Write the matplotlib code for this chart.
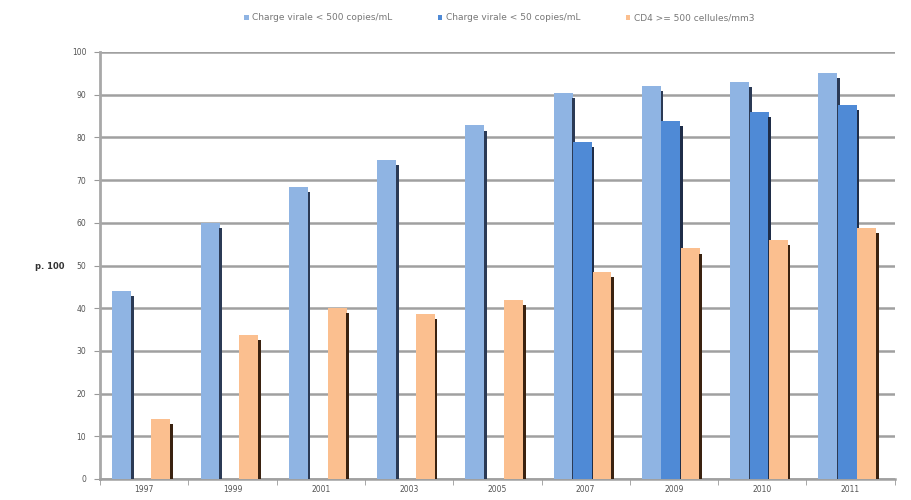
import numpy as np
import matplotlib.pyplot as plt

years = ['1997', '1999', '2001', '2003', '2005', '2007', '2009', '2010', '2011']
cv500 = [44, 60, 68.5, 74.8, 82.8, 90.5, 92, 93, 95]
cv50 = [np.nan, np.nan, np.nan, np.nan, np.nan, 79, 83.8, 86, 87.6]
cd4 = [14, 33.8, 40, 38.6, 42, 48.5, 54, 56, 58.8]

series = [
    ('Charge virale < 500 copies/mL', cv500, '#8fb4e3', '#2b3a55'),
    ('Charge virale < 50 copies/mL', cv50, '#4f8ad6', '#1f2d48'),
    ('CD4 >= 500 cellules/mm3', cd4, '#fbbf8f', '#3a2210'),
]

fig = plt.figure(figsize=(9.11, 5), dpi=100)
ax = fig.add_axes([0.110, 0.042, 0.872, 0.854])

x = np.arange(len(years))
w = 0.215
step = 0.22
for i, (name, vals, col, shade) in enumerate(series):
    vals = np.array(vals, dtype=float)
    pos = x + (i - 1) * step - 0.035
    ax.bar(pos, vals, width=w, color=col, label=name, zorder=3, linewidth=0)
    # dark side edge to mimic the 3d look
    ax.bar(pos + w / 2 + 0.012, vals - 1.2, width=0.03, color=shade, zorder=3, linewidth=0)

ax.set_xlim(-0.5, len(years) - 0.5)
ax.set_ylim(0, 100)
ax.set_yticks(range(0, 101, 10))
ax.set_xticks(x)
ax.set_xticklabels(years)
ax.set_xticks(np.arange(-0.5, len(years), 1), minor=True)
ax.tick_params(axis='x', which='major', length=0, labelsize=5.5, colors='#555555', pad=4)
ax.tick_params(axis='x', which='minor', length=4, color='#999999')
ax.tick_params(axis='y', length=4, color='#999999', labelsize=5.5, labelcolor='#555555', pad=6)

ax.grid(axis='y', color='#a0a0a0', linewidth=1.8, zorder=0)
for s in ['top', 'right']:
    ax.spines[s].set_visible(False)
ax.spines['left'].set_color('#a8a8a8')
ax.spines['left'].set_linewidth(2)
ax.spines['bottom'].set_color('#a0a0a0')
ax.spines['bottom'].set_linewidth(1.8)

fig.text(0.055, 0.467, 'p. 100', fontsize=6, fontweight='bold', color='#333333',
         ha='center', va='center')

handles, labels = ax.get_legend_handles_labels()
fig.legend(handles, labels, loc='center', bbox_to_anchor=(0.548, 0.964), ncol=3,
           frameon=False, fontsize=6.5, labelcolor='#777777', handlelength=0.5,
           handleheight=0.5, handletextpad=0.4, columnspacing=5)

fig.savefig('out.png', dpi=100)
